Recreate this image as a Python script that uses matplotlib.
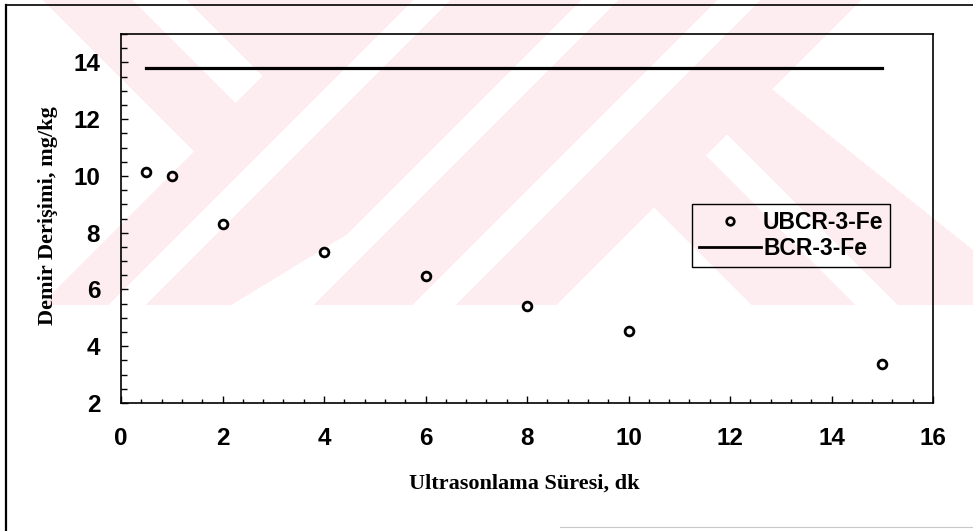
import numpy as np
import matplotlib
matplotlib.use("Agg")
import matplotlib.pyplot as plt
from matplotlib.ticker import MultipleLocator
from matplotlib.lines import Line2D

# ultrasonication time (min) and measured Fe concentration (mg/kg)
sure = [0.5, 1, 2, 4, 6, 8, 10, 15]
ubcr_fe = [10.15, 10.0, 8.32, 7.31, 6.49, 5.43, 4.54, 3.37]
# certified reference value, drawn across the measured range
bcr_x = [0.5, 15]
bcr_fe = [13.8, 13.8]

W, H = 973, 531
fig = plt.figure(figsize=(W / 100, H / 100), dpi=100, facecolor="white")

# background layer in pixel coordinates: faint striped emblem + page frame
bg = fig.add_axes([0, 0, 1, 1], zorder=0)
bg.set_xlim(0, W)
bg.set_ylim(H, 0)
bg.axis("off")

yy, xx = np.mgrid[0:H, 0:W]
u = xx + yy
v = xx - yy
white = np.zeros((H, W), dtype=bool)
white |= (v < 43) & (u < 345)
white |= (v > 132) & (v < 187) & (u < 338)
white |= (u > 412) & (u < 450)
white |= (u > 580) & (u < 618)
white |= (u < 618) & (yy > 230) & (xx > 353 - (yy - 230) * 1.64)
white |= (u > 716) & (u < 760)
right = u > 860
l1 = yy < 90 + 0.8 * (xx - 773)
white |= right & (l1 | ((v > 550) & (v < 593)) | (v < 447))
pink = (yy < 305) & ~white

img = np.ones((H, W, 3))
img[pink] = np.array([253, 236, 240]) / 255
bg.imshow(img, extent=(0, W, H, 0), aspect="auto", interpolation="nearest")

bg.plot([6, 6], [5, H], color="black", lw=1.6)
bg.plot([6, W], [5, 5], color="black", lw=1.2)
bg.plot([560, W], [527, 527], color="#c8c8c8", lw=0.8)

ax = fig.add_axes([121 / W, 1 - 403 / H, (933 - 121) / W, (403 - 34) / H], zorder=1)
ax.set_facecolor("none")

ax.plot(sure, ubcr_fe, linestyle="none", marker="o", ms=6.3, mew=2.0,
        mfc="none", mec="black", label="UBCR-3-Fe")
ax.plot(bcr_x, bcr_fe, color="black", lw=2.3, label="BCR-3-Fe")

ax.set_xlim(0, 16)
ax.set_ylim(2, 15)
ax.xaxis.set_major_locator(MultipleLocator(2))
ax.xaxis.set_minor_locator(MultipleLocator(0.4))
ax.yaxis.set_minor_locator(MultipleLocator(0.5))
ax.set_yticks([2, 4, 6, 8, 10, 12, 14])

for s in ax.spines.values():
    s.set_linewidth(1.2)
ax.tick_params(which="both", direction="in", top=False, right=False, width=1.0)
ax.tick_params(axis="x", which="major", length=5, pad=17)
ax.tick_params(axis="x", which="minor", length=3)
ax.tick_params(axis="y", which="major", length=5, pad=15)
ax.tick_params(axis="y", which="minor", length=4)

tick_font = dict(family="Liberation Sans", weight="bold", size=17.5)
for lab in ax.get_xticklabels() + ax.get_yticklabels():
    lab.set_fontproperties(tick_font)

label_font = dict(family="Liberation Serif", weight="bold", size=16)
fig.text(524 / W, 1 - 484 / H, "Ultrasonlama Süresi, dk", ha="center", va="center",
         **label_font)
fig.text(48 / W, 1 - 216 / H, "Demir Derişimi, mg/kg", ha="center", va="center",
         rotation=90, **label_font)

handles = [
    Line2D([], [], linestyle="none", marker="o", ms=5.5, mew=1.9, mfc="none", mec="black"),
    Line2D([], [], color="black", lw=2.0),
]
leg = ax.legend(handles, ["UBCR-3-Fe", "BCR-3-Fe"], loc="upper left",
                bbox_to_anchor=(692 / W, 1 - 204 / H), bbox_transform=fig.transFigure,
                prop=dict(family="Liberation Sans", weight="bold", size=16.5),
                frameon=True, fancybox=False, framealpha=1, edgecolor="black",
                borderaxespad=0, borderpad=0.3, handlelength=2.7,
                handletextpad=0.1, labelspacing=0.12)
leg.get_frame().set_linewidth(1.0)
leg.get_frame().set_facecolor("none")

fig.savefig("out.png", dpi=100, facecolor="white")
